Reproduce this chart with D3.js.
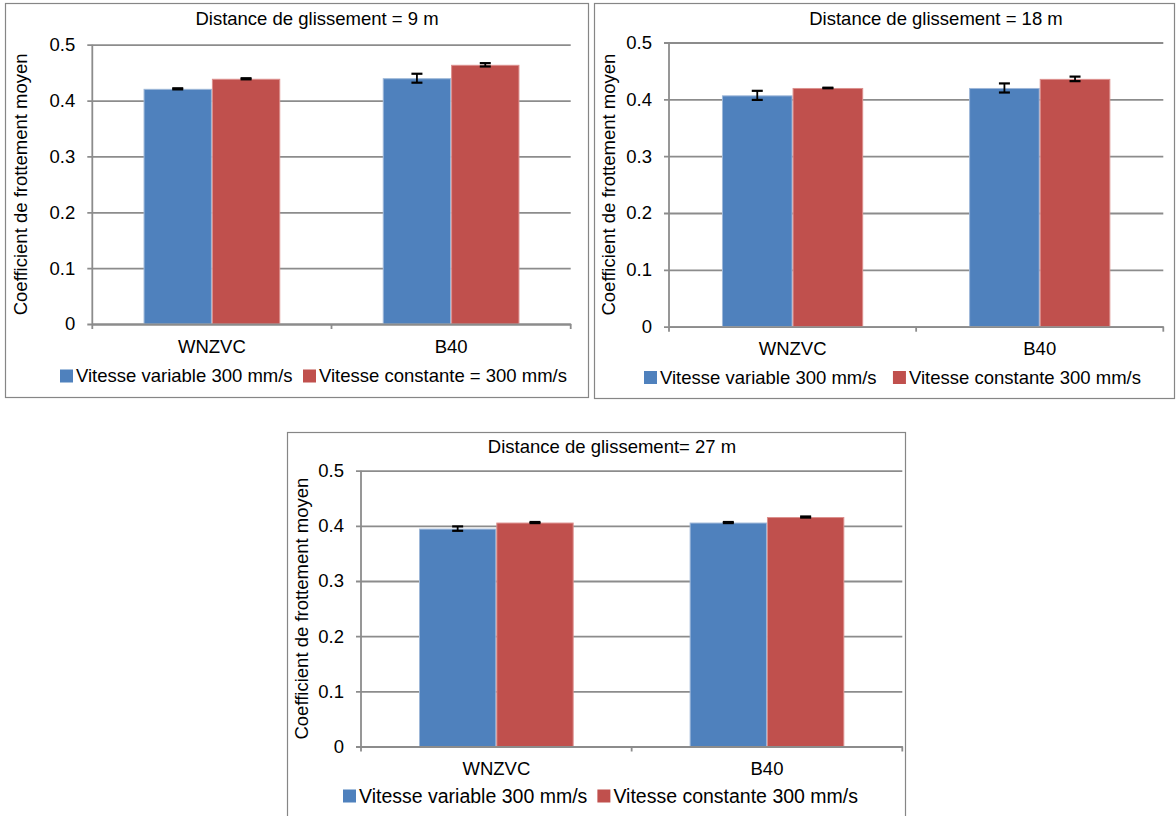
<!DOCTYPE html>
<html>
<head>
<meta charset="utf-8">
<script src="https://cdn.jsdelivr.net/npm/d3@7/dist/d3.min.js"></script>
<style>
  html, body { margin: 0; padding: 0; background: #fff; }
  svg text { font-family: "Liberation Sans", Arial, sans-serif; fill: #000; }
</style>
</head>
<body>
<svg id="chart" width="1176" height="816"></svg>
<script>
// ---- data ----
const categories = ["WNZVC", "B40"];
const yTicks = [0, 0.1, 0.2, 0.3, 0.4, 0.5];
const titles = ["Distance de glissement = 9 m", "Distance de glissement = 18 m", "Distance de glissement= 27 m"];
const yAxisTitle = "Coefficient de frottement moyen";
const legend9 = ["Vitesse variable 300 mm/s", "Vitesse constante = 300 mm/s"];
const legend18 = ["Vitesse variable 300 mm/s", "Vitesse constante 300 mm/s"];
const legend27 = ["Vitesse variable 300 mm/s", "Vitesse constante 300 mm/s"];

const variable9 = [0.421, 0.440];
const constant9 = [0.439, 0.464];
const variableErr9 = [0.001, 0.008];
const constantErr9 = [0.001, 0.003];

const variable18 = [0.407, 0.420];
const constant18 = [0.420, 0.436];
const variableErr18 = [0.008, 0.008];
const constantErr18 = [0.0005, 0.004];

const variable27 = [0.395, 0.406];
const constant27 = [0.406, 0.416];
const variableErr27 = [0.004, 0.001];
const constantErr27 = [0.001, 0.001];

const colors = ["#4f81bd", "#c0504d"];
const edgeColors = ["#9db7d8", "#dc8f8d"];

// ---- layout ----
const panels = [
  { title: titles[0], legend: legend9, series: [variable9, constant9], errs: [variableErr9, constantErr9],
    box: [5, 3, 588, 397], plot: [92.3, 44.7, 570.7, 324], titleX: 317, titleY: 19,
    xLabY: 347, legY: 376, legX0: 60, legX1: 567, legFs: 18.5, yTitleX: 20.5 },
  { title: titles[1], legend: legend18, series: [variable18, constant18], errs: [variableErr18, constantErr18],
    box: [594, 3, 1174, 398], plot: [669, 42.5, 1163.3, 326.7], titleX: 936, titleY: 19,
    xLabY: 349, legY: 377.5, legX0: 644, legX1: 1141, legFs: 18.5, yTitleX: 609 },
  { title: titles[2], legend: legend27, series: [variable27, constant27], errs: [variableErr27, constantErr27],
    box: [287, 432, 905, 820], plot: [361, 470.7, 902.3, 746.5], titleX: 612, titleY: 447,
    xLabY: 768.5, legY: 796, legX0: 343, legX1: 858, legFs: 19.5, yTitleX: 301.5 }
];

const svg = d3.select("#chart");
const gridColor = "#8c8c8c";
const fs = 18.5;

panels.forEach(p => {
  const g = svg.append("g");
  const [bx0, by0, bx1, by1] = p.box;
  g.append("rect").attr("x", bx0 + 0.5).attr("y", by0 + 0.5)
    .attr("width", bx1 - bx0).attr("height", by1 - by0)
    .attr("fill", "#fff").attr("stroke", "#868686").attr("stroke-width", 1.2);

  const [px0, py0, px1, py1] = p.plot;
  const y = d3.scaleLinear().domain([0, 0.5]).range([py1, py0]);
  const x0 = d3.scaleBand().domain(categories).range([px0, px1]).paddingInner(0).paddingOuter(0);
  const bw = x0.bandwidth() / 3.5;
  const x1 = d3.scaleBand().domain([0, 1]).range([x0.bandwidth() / 2 - bw, x0.bandwidth() / 2 + bw]);

  // gridlines + y ticks
  const yAxis = d3.axisLeft(y).tickValues(yTicks).tickFormat(d => d === 0 ? "0" : d3.format(".1f")(d))
    .tickSize(-(px1 - px0 + 5)).tickPadding(12);
  const ya = g.append("g").attr("transform", `translate(${px0 - 5},0)`).call(yAxis);
  ya.select(".domain").remove();
  ya.selectAll(".tick line").attr("stroke", gridColor).attr("stroke-width", 1.8)
    .attr("x1", 0).attr("x2", px1 - px0 + 5);
  ya.selectAll(".tick text").attr("font-size", fs).attr("font-family", "Liberation Sans, Arial, sans-serif")
    .attr("x", -12);

  // vertical axis line
  g.append("line").attr("x1", px0).attr("x2", px0).attr("y1", py0).attr("y2", py1)
    .attr("stroke", gridColor).attr("stroke-width", 1.8);

  // bars
  p.series.forEach((vals, si) => {
    g.append("g").selectAll("rect").data(vals).join("rect")
      .attr("x", (d, i) => x0(categories[i]) + x1(si) + 0.5)
      .attr("y", d => y(d) + 0.5)
      .attr("width", x1.bandwidth() - 1)
      .attr("height", d => y(0) - y(d) - 0.5)
      .attr("fill", colors[si])
      .attr("stroke", edgeColors[si]).attr("stroke-width", 1);
  });

  // x axis
  const xAxis = d3.axisBottom(x0).tickSize(0).tickPadding(0);
  const xa = g.append("g").attr("transform", `translate(0,${py1})`).call(xAxis);
  xa.select(".domain").attr("stroke", gridColor).attr("stroke-width", 1.8);
  xa.selectAll(".tick text").attr("font-size", fs).attr("font-family", "Liberation Sans, Arial, sans-serif")
    .attr("y", p.xLabY - py1).attr("dy", "0.35em");
  // boundary ticks
  const bounds = [px0, px0 + x0.bandwidth(), px1];
  g.append("g").selectAll("line").data(bounds).join("line")
    .attr("x1", d => d).attr("x2", d => d).attr("y1", py1).attr("y2", py1 + 5)
    .attr("stroke", gridColor).attr("stroke-width", 1.8);

  // error bars
  p.series.forEach((vals, si) => {
    const eg = g.append("g");
    vals.forEach((v, i) => {
      const cx = x0(categories[i]) + x1(si) + x1.bandwidth() / 2;
      const e = p.errs[si][i];
      const yt = y(v + e), yb = y(v - e);
      eg.append("line").attr("x1", cx).attr("x2", cx).attr("y1", yt).attr("y2", yb)
        .attr("stroke", "#000").attr("stroke-width", 1.8);
      [yt, yb].forEach(yy => eg.append("line").attr("x1", cx - 5.5).attr("x2", cx + 5.5)
        .attr("y1", yy).attr("y2", yy).attr("stroke", "#000").attr("stroke-width", 2.2));
    });
  });

  // title
  g.append("text").attr("x", p.titleX).attr("y", p.titleY).attr("dy", "0.35em")
    .attr("text-anchor", "middle").attr("font-size", fs).text(p.title);

  // y axis title
  g.append("text").attr("transform", `translate(${p.yTitleX},${(py0 + py1) / 2}) rotate(-90)`)
    .attr("dy", "0.35em").attr("text-anchor", "middle").attr("font-size", fs).text(yAxisTitle);

  // legend: lay items out, then stretch the gap so it spans legX0..legX1
  const lg = g.append("g");
  const sq = 13;
  const items = p.legend.map((t, i) => {
    const it = lg.append("g");
    it.append("rect").attr("width", sq).attr("height", sq).attr("y", -sq / 2).attr("fill", colors[i]);
    const tx = it.append("text").attr("x", sq + 3).attr("dy", "0.35em").attr("font-size", p.legFs).text(t);
    return { it, w: sq + 3 + tx.node().getComputedTextLength() };
  });
  const used = items.reduce((s, d) => s + d.w, 0);
  const gap = Math.max(8, (p.legX1 - p.legX0) - used);
  const total = used + gap;
  let cx = (p.legX0 + p.legX1) / 2 - total / 2;
  items.forEach(d => { d.it.attr("transform", `translate(${cx},${p.legY})`); cx += d.w + gap; });
});
</script>
</body>
</html>
